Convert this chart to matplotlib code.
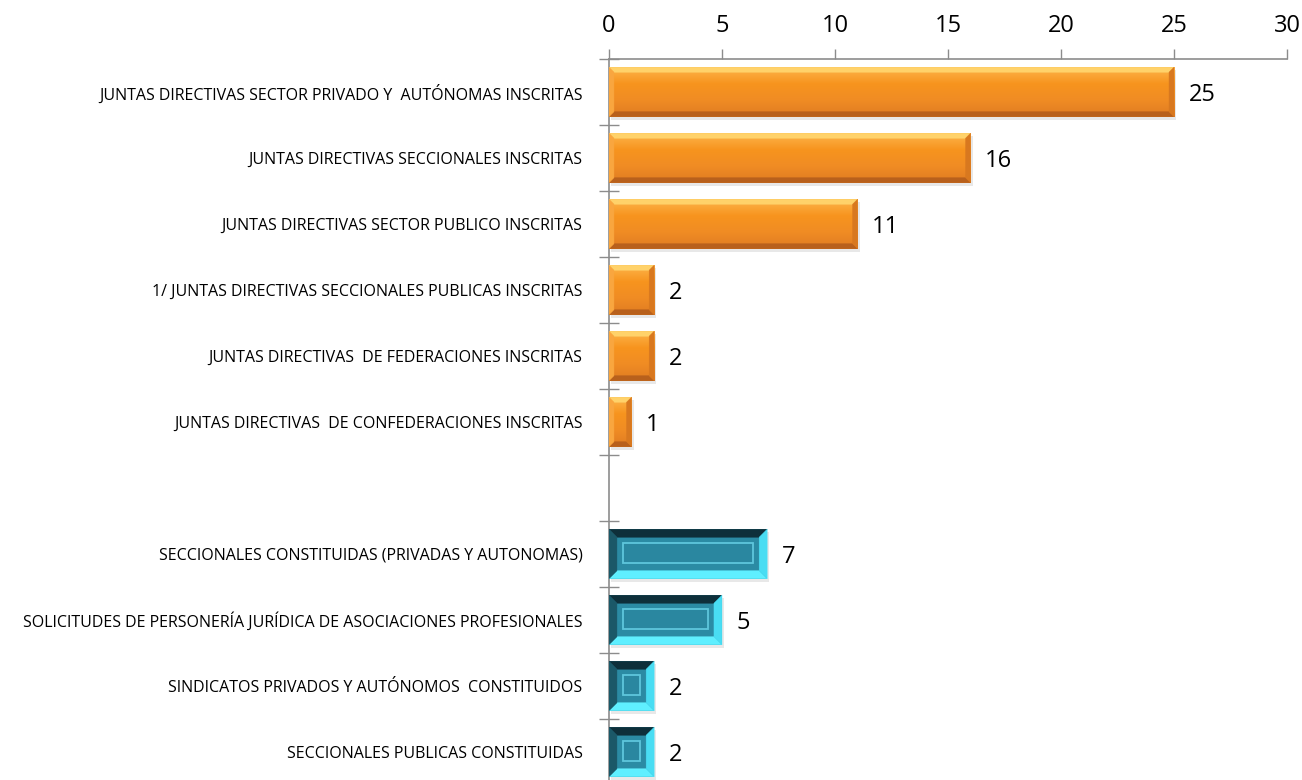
import numpy as np
import matplotlib
matplotlib.use("Agg")
import matplotlib.pyplot as plt
from matplotlib.patches import Polygon, Rectangle
from matplotlib.colors import LinearSegmentedColormap

# categories and values (blank slot separates the groups)
labels_orange = [
    "JUNTAS DIRECTIVAS SECTOR PRIVADO Y  AUTÓNOMAS INSCRITAS",
    "JUNTAS DIRECTIVAS SECCIONALES INSCRITAS",
    "JUNTAS DIRECTIVAS SECTOR PUBLICO INSCRITAS",
    "1/ JUNTAS DIRECTIVAS SECCIONALES PUBLICAS INSCRITAS",
    "JUNTAS DIRECTIVAS  DE FEDERACIONES INSCRITAS",
    "JUNTAS DIRECTIVAS  DE CONFEDERACIONES INSCRITAS",
]
values_orange = [25, 16, 11, 2, 2, 1]

labels_teal = [
    "SECCIONALES CONSTITUIDAS (PRIVADAS Y AUTONOMAS)",
    "SOLICITUDES DE PERSONERÍA JURÍDICA DE ASOCIACIONES PROFESIONALES",
    "SINDICATOS PRIVADOS Y AUTÓNOMOS  CONSTITUIDOS",
    "SECCIONALES PUBLICAS CONSTITUIDAS",
]
values_teal = [7, 5, 2, 2]

xticks = [0, 5, 10, 15, 20, 25, 30]

plt.rcParams['font.family'] = ['Open Sans', 'DejaVu Sans']

fig = plt.figure(figsize=(13.02, 7.80), dpi=100)
ax = fig.add_axes([0.4677, -0.0064, 0.5208, 0.9308])

pos_orange = np.arange(len(values_orange))
pos_teal = np.arange(len(values_teal)) + len(values_orange) + 1
nslots = len(values_orange) + 1 + len(values_teal)
h = 0.75

ax.set_xlim(0, 30)
ax.set_ylim(nslots - 0.5, -0.5)

fig.canvas.draw()
bb = ax.get_window_extent()
px_x = 30 / bb.width          # data units per pixel, x
px_y = nslots / bb.height     # data units per pixel, y


def bevel(ax, x1, c, bw, colors, z):
    # colors: top, bottom, left, right
    y0, y1 = c - h / 2, c + h / 2
    dx, dy = bw * px_x, bw * px_y
    dx = min(dx, x1 / 2.2)
    top = [(0, y0), (x1, y0), (x1 - dx, y0 + dy), (dx, y0 + dy)]
    bot = [(0, y1), (x1, y1), (x1 - dx, y1 - dy), (dx, y1 - dy)]
    left = [(0, y0), (dx, y0 + dy), (dx, y1 - dy), (0, y1)]
    right = [(x1, y0), (x1 - dx, y0 + dy), (x1 - dx, y1 - dy), (x1, y1)]
    for pts, col in zip([top, bot, left, right], colors):
        ax.add_patch(Polygon(pts, closed=True, facecolor=col, edgecolor=col,
                             lw=0.3, zorder=z))


# orange bars
bars = ax.barh(pos_orange, values_orange, height=h, color="#F7941E", zorder=2)
grad = np.linspace(0, 1, 64).reshape(-1, 1)
ocmap = LinearSegmentedColormap.from_list("o", ["#FDB44B", "#F7941E", "#F08C24", "#E07C22"])
for b, v in zip(bars, values_orange):
    c = b.get_y() + h / 2
    # soft shadow
    ax.add_patch(Rectangle((2 * px_x, c - h / 2 + 3 * px_y), v, h, color="#d9d9d9",
                           alpha=0.6, zorder=1, lw=0))
    ax.imshow(grad, cmap=ocmap, aspect="auto", extent=(0, v, c + h / 2, c - h / 2),
              zorder=2.5, interpolation="bilinear")
    bevel(ax, v, c, 5, ["#FFD26A", "#B8601C", "#F9A63F", "#D8781F"], 3)

# teal bars
tbars = ax.barh(pos_teal, values_teal, height=h, color="#2B8BA4", zorder=2)
for b, v in zip(tbars, values_teal):
    c = b.get_y() + h / 2
    ax.add_patch(Rectangle((2 * px_x, c - h / 2 + 3 * px_y), v, h, color="#d9d9d9",
                           alpha=0.6, zorder=1, lw=0))
    bevel(ax, v, c, 8, ["#0E2F3A", "#5FEFFF", "#1B5868", "#49DDF3"], 3)
    ix, iy = 14 * px_x, 14 * px_y
    ax.add_patch(Rectangle((ix, c - h / 2 + iy), v - 2 * ix, h - 2 * iy - 2 * px_y,
                           facecolor="#2A87A0", edgecolor="#5EC6DC", lw=1.3, zorder=4))

# value labels
for p, v in zip(list(pos_orange) + list(pos_teal), values_orange + values_teal):
    ax.text(v + 0.65, p + 0.05, str(v), va="center", ha="left", fontsize=17, color="black")

# axes styling
ax.xaxis.tick_top()
ax.set_xticks(xticks)
ax.tick_params(axis="x", direction="out", length=7, width=1, color="#8c8c8c",
               labelsize=17, pad=8)
ax.set_yticks(list(pos_orange) + list(pos_teal))
ax.set_yticklabels(labels_orange + labels_teal, fontsize=11.5)
ax.tick_params(axis="y", which="major", length=0, pad=19)
ax.set_yticks(np.arange(-0.5, nslots, 1), minor=True)
ax.tick_params(axis="y", which="minor", direction="inout", length=14, width=1,
               color="#8c8c8c")
for s in ["right", "bottom"]:
    ax.spines[s].set_visible(False)
for s in ["top", "left"]:
    ax.spines[s].set_color("#8c8c8c")
    ax.spines[s].set_linewidth(1.2)

fig.savefig("out.png", dpi=100)
